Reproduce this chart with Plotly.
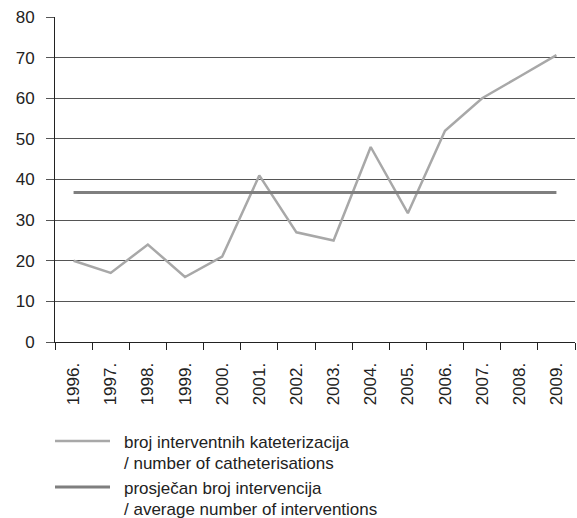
import plotly.graph_objects as go

years = ["1996.", "1997.", "1998.", "1999.", "2000.", "2001.", "2002.",
         "2003.", "2004.", "2005.", "2006.", "2007.", "2008.", "2009."]
caths = [20, 17, 24, 16, 21, 41, 27, 25, 48, 31.7, 52, 60, 65.3, 70.6]
average = [36.8] * len(years)

series_names = [
    ["broj interventnih kateterizacija", "/ number of catheterisations"],
    ["prosječan broj intervencija", "/ average number of interventions"],
]
colors = ["#a8a8a8", "#7f7f7f"]
widths = [2.5, 3]

W, H = 577, 518
ML, MR, MT, MB = 55, 2, 17, 176
PW, PH = W - ML - MR, H - MT - MB


def px_x(x):
    return (x - ML) / PW


def px_y(y):
    return (H - MB - y) / PH


fig = go.Figure()
for vals, nm, c, w in zip([caths, average], series_names, colors, widths):
    fig.add_trace(go.Scatter(x=years, y=vals, mode="lines",
                             name=" ".join(nm), showlegend=False,
                             line=dict(color=c, width=w)))

# manual legend (symbol + two-line text)
entry_top = [441, 487]
for top, nm, c, w in zip(entry_top, series_names, colors, widths):
    fig.add_shape(type="line", xref="paper", yref="paper",
                  x0=px_x(55), x1=px_x(110), y0=px_y(top), y1=px_y(top),
                  line=dict(color=c, width=w))
    for i, line in enumerate(nm):
        fig.add_annotation(xref="paper", yref="paper", x=px_x(122),
                           y=px_y(top + 1 + 21 * i), text=line,
                           showarrow=False, xanchor="left", yanchor="middle",
                           font=dict(size=17, color="#222"))

fig.update_layout(
    width=W, height=H,
    margin=dict(l=ML, r=MR, t=MT, b=MB, autoexpand=False),
    paper_bgcolor="white", plot_bgcolor="white",
    font=dict(family="Liberation Sans, Arial", size=17, color="#222"),
    showlegend=False,
)
fig.update_xaxes(type="category", tickangle=-90, ticks="outside", ticklen=7,
                 tickson="boundaries", tickcolor="#222", showline=True,
                 linecolor="#222", showgrid=False, zeroline=False,
                 ticklabelstandoff=13, automargin=False,
                 range=[-0.5, 13.5])
fig.update_yaxes(range=[0, 80], dtick=10, showgrid=True, gridcolor="#555",
                 gridwidth=1, showline=True, linecolor="#222", ticks="outside",
                 ticklen=8, tickcolor="#555", zeroline=False,
                 ticklabelstandoff=8, automargin=False)

fig.write_html("out.html")
